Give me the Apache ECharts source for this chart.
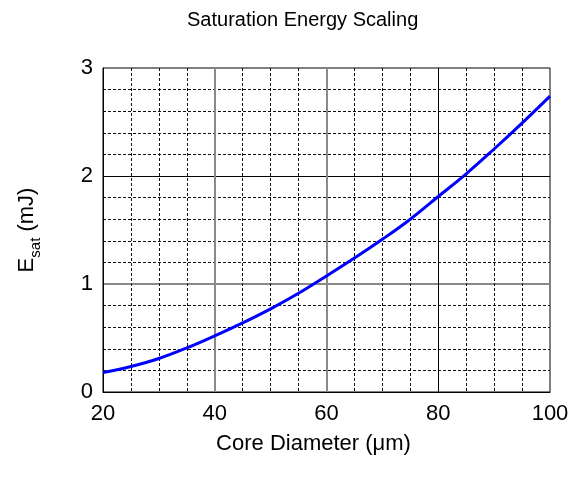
<!DOCTYPE html>
<html>
<head>
<meta charset="utf-8">
<script src="https://cdn.jsdelivr.net/npm/echarts@6/dist/echarts.min.js"></script>
<style>
  html, body { margin: 0; padding: 0; background: #fff; }
  #chart { width: 573px; height: 486px; }
</style>
</head>
<body>
<div id="chart"></div>
<script>
// Core diameter (µm) and saturation energy (mJ)
const coreDiameter = [20, 25, 30, 35, 40, 45, 50, 55, 60, 65, 70, 75, 80, 85, 90, 95, 100];
const satEnergy = [0.18, 0.236, 0.31, 0.408, 0.52, 0.64, 0.77, 0.914, 1.074, 1.24, 1.414, 1.60, 1.81, 2.02, 2.25, 2.49, 2.74];

const xTicks = [20, 40, 60, 80, 100];
const yTicks = [0, 1, 2, 3];

const FONT = 'Liberation Sans, Arial, sans-serif';
const T = 'transparent';

const chart = echarts.init(document.getElementById('chart'), null, { renderer: 'canvas' });

const baseX = {
  type: 'value',
  min: xTicks[0],
  max: xTicks[xTicks.length - 1],
  interval: 20,
  axisTick: { show: false },
  axisLabel: { show: false },
  axisLine: { show: false }
};
const baseY = {
  type: 'value',
  min: yTicks[0],
  max: yTicks[yTicks.length - 1],
  interval: 1,
  axisTick: { show: false },
  axisLabel: { show: false },
  axisLine: { show: false }
};

chart.setOption({
  animation: false,
  backgroundColor: '#fff',
  title: {
    text: 'Saturation Energy Scaling',
    left: 182,
    top: 5,
    textStyle: { fontFamily: FONT, fontSize: 20, fontWeight: 'normal', color: '#000' }
  },
  grid: {
    left: 103, top: 68, right: 23, bottom: 94,
    show: true, borderColor: '#000', borderWidth: 1, backgroundColor: '#fff'
  },
  xAxis: [
    Object.assign({}, baseX, {
      name: 'Core Diameter (\u03bcm)',
      nameLocation: 'middle',
      nameGap: 41,
      nameTextStyle: { fontFamily: FONT, fontSize: 22, color: '#000', padding: [0, 26, 0, 0] },
      axisLine: { show: true, lineStyle: { color: '#000', width: 1 } },
      axisLabel: { show: true, fontFamily: FONT, fontSize: 22, color: '#000', margin: 11 },
      splitLine: { show: true, lineStyle: { color: [T, T, T, '#000', T], width: 1 } },
      minorTick: { show: false, splitNumber: 4 },
      minorSplitLine: { show: true, lineStyle: { color: '#111', width: 1, type: [3, 2] } }
    }),
    Object.assign({}, baseX, {
      splitLine: { show: true, lineStyle: { color: [T, '#8a8a8a', '#8a8a8a', T, T], width: 2 } }
    })
  ],
  yAxis: [
    Object.assign({}, baseY, {
      name: '{a|E}{b|sat}{a| (mJ)}',
      nameLocation: 'middle',
      nameGap: 62,
      nameRotate: 90,
      nameTextStyle: {
        rich: {
          a: { fontFamily: FONT, fontSize: 22, color: '#000', lineHeight: 25, verticalAlign: 'top' },
          b: { fontFamily: FONT, fontSize: 15, color: '#000', lineHeight: 17, verticalAlign: 'top', padding: [12, 0, 0, 0] }
        }
      },
      axisLine: { show: true, lineStyle: { color: '#000', width: 1 } },
      axisLabel: { show: true, fontFamily: FONT, fontSize: 22, color: '#000', margin: 10 },
      splitLine: { show: true, lineStyle: { color: [T, T, '#000', T], width: 1 } },
      minorTick: { show: false, splitNumber: 5 },
      minorSplitLine: { show: true, lineStyle: { color: '#111', width: 1, type: [3, 2] } }
    }),
    Object.assign({}, baseY, {
      splitLine: { show: true, lineStyle: { color: [T, '#8a8a8a', T, T], width: 2 } }
    })
  ],
  series: [{
    type: 'line',
    xAxisIndex: 0,
    yAxisIndex: 0,
    data: coreDiameter.map((d, i) => [d, satEnergy[i]]),
    smooth: 0.4,
    showSymbol: false,
    lineStyle: { color: '#0000ff', width: 3 },
    z: 5
  }]
});
</script>
</body>
</html>
